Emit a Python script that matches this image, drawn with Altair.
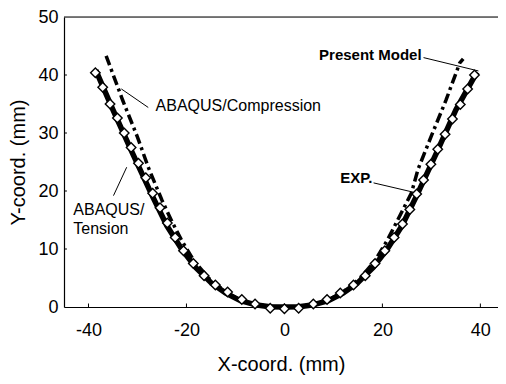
import altair as alt
import pandas as pd

FONT = "Liberation Sans"

# EXP. (diamonds)
exp_x = [-38.6, -37.1, -35.6, -34.1, -32.7, -31.3, -29.8, -28.3, -26.9, -25.4, -23.9,
         -22.3, -20.6, -18.6, -16.4, -14.1, -11.6, -8.7, -6.0, -2.9, 0.0, 2.9, 5.9, 8.7,
         11.4, 14.1, 16.5, 18.5, 20.5, 22.4, 24.1, 25.6, 27.0, 28.4, 29.9, 31.3, 32.8,
         34.3, 35.9, 37.4, 38.8]
exp_y = [40.4, 37.9, 35.0, 32.6, 30.0, 27.5, 24.8, 22.3, 19.6, 17.1, 14.5,
         12.0, 9.7, 7.5, 5.4, 3.8, 2.6, 1.3, 0.5, -0.2, -0.3, -0.2, 0.5, 1.3,
         2.4, 3.8, 5.4, 7.5, 9.7, 12.0, 14.3, 16.8, 19.5, 21.9, 24.6, 27.2, 29.8,
         32.4, 34.9, 37.6, 40.0]

# thick solid line
solid_x = [-38.5, -35.0, -31.0, -27.0, -24.0, -21.0, -18.0, -15.0, -12.0, -9.0, -6.0, -3.0,
           0.0, 3.0, 6.0, 9.0, 12.0, 15.0, 18.0, 21.0, 24.0, 27.0, 31.0, 35.0, 39.3]
solid_y = [40.8, 34.0, 26.5, 19.2, 14.0, 10.0, 6.7, 4.2, 2.4, 1.1, 0.4, 0.05,
           0.0, 0.05, 0.4, 1.1, 2.4, 4.2, 6.7, 10.0, 14.0, 19.2, 26.5, 34.0, 40.5]

# dash-dot line
dash_x = [-36.4, -33.0, -30.0, -27.8, -25.0, -23.0, -21.0, -18.5, -15.5, -12.0, -9.0, -6.0, -3.0,
          0.0, 3.0, 6.0, 9.0, 12.0, 15.5, 18.5, 21.0, 23.0, 25.9, 27.3, 30.0, 33.0, 35.8, 36.5]
dash_y = [43.3, 35.6, 29.3, 24.1, 18.4, 14.8, 11.5, 8.0, 5.0, 2.6, 1.2, 0.45, 0.1,
          0.0, 0.1, 0.45, 1.2, 2.6, 5.0, 8.0, 11.5, 14.8, 19.6, 23.8, 29.5, 35.7, 42.1, 42.8]

# annotations
label_text = ["ABAQUS/Compression", "ABAQUS/", "Tension", "Present Model", "EXP."]
label_x = [-26.3, -43.1, -43.1, 28.0, 11.4]
label_y = [34.7, 16.7, 13.4, 43.5, 22.3]
label_align = ["left", "left", "left", "right", "left"]
label_weight = ["normal", "normal", "normal", "bold", "bold"]

lead_x = [-33.3, -34.9, 28.4, 18.2]
lead_y = [37.6, 19.2, 43.0, 21.4]
lead_x2 = [-27.8, -32.2, 39.6, 26.3]
lead_y2 = [34.4, 24.1, 40.7, 19.8]

x_ticks = [-40, -20, 0, 20, 40]
y_ticks = [10, 20, 30, 40]

X_MIN, X_MAX = -45, 43.6
xs = alt.Scale(domain=[X_MIN, X_MAX], nice=False, zero=False)
ys = alt.Scale(domain=[0, 50], nice=False)

LBL = "datum.value < 0 ? '-' + abs(datum.value) : '' + datum.value"

xaxis = alt.Axis(values=x_ticks, ticks=False, grid=False, domainColor="black", domainWidth=1.2,
                 labelFont=FONT, labelFontSize=18, labelColor="black", labelPadding=14,
                 labelExpr=LBL,
                 title="X-coord. (mm)", titleFont=FONT, titleFontSize=20, titleFontWeight="normal",
                 titleColor="black", titlePadding=15)
yaxis = alt.Axis(values=[0, 10, 20, 30, 40, 50], ticks=False, grid=False, domainColor="black",
                 domainWidth=1.2, labelFont=FONT, labelFontSize=18, labelColor="black",
                 labelPadding=6, title="Y-coord. (mm)", titleFont=FONT, titleFontSize=20,
                 titleFontWeight="normal", titleColor="black", titlePadding=9)

exp_df = pd.DataFrame({"x": exp_x, "y": exp_y})
solid_df = pd.DataFrame({"x": solid_x, "y": solid_y, "o": range(len(solid_x))})
dash_df = pd.DataFrame({"x": dash_x, "y": dash_y, "o": range(len(dash_x))})
lead_df = pd.DataFrame({"x": lead_x, "y": lead_y, "x2": lead_x2, "y2": lead_y2})

base_axes = alt.Chart(exp_df).mark_point(opacity=0).encode(
    x=alt.X("x:Q", scale=xs, axis=xaxis),
    y=alt.Y("y:Q", scale=ys, axis=yaxis),
)

solid = alt.Chart(solid_df).mark_line(color="black", strokeWidth=5.5, strokeJoin="round").encode(
    x=alt.X("x:Q", scale=xs), y=alt.Y("y:Q", scale=ys), order="o:O")

dash = alt.Chart(dash_df).mark_line(color="black", strokeWidth=3.5, strokeDash=[10, 4, 3, 4],
                                    strokeCap="butt").encode(
    x=alt.X("x:Q", scale=xs), y=alt.Y("y:Q", scale=ys), order="o:O")

pts = alt.Chart(exp_df).mark_point(shape="diamond", size=90, filled=True, fill="white",
                                   stroke="black", strokeWidth=1.4, opacity=1).encode(
    x=alt.X("x:Q", scale=xs), y=alt.Y("y:Q", scale=ys))

leads = alt.Chart(lead_df).mark_rule(color="black", strokeWidth=1).encode(
    x=alt.X("x:Q", scale=xs), y=alt.Y("y:Q", scale=ys), x2="x2:Q", y2="y2:Q")

texts = []
for t, x, y, a, w in zip(label_text, label_x, label_y, label_align, label_weight):
    d = pd.DataFrame({"t": [t], "x": [x], "y": [y]})
    texts.append(alt.Chart(d).mark_text(font=FONT, fontSize=15 if w == "bold" else 16,
                                        fontWeight=w, align=a, baseline="middle",
                                        color="black").encode(
        x=alt.X("x:Q", scale=xs), y=alt.Y("y:Q", scale=ys), text="t:N"))

top_df = pd.DataFrame({"x": [X_MIN], "x2": [X_MAX], "y": [50]})
top = alt.Chart(top_df).mark_rule(color="black", strokeWidth=1.2).encode(
    x=alt.X("x:Q", scale=xs), x2="x2:Q", y=alt.Y("y:Q", scale=ys))

xt_df = pd.DataFrame({"x": x_ticks, "y": [0] * len(x_ticks), "y2": [0.6] * len(x_ticks)})
xt = alt.Chart(xt_df).mark_rule(color="black", strokeWidth=1).encode(
    x=alt.X("x:Q", scale=xs), y=alt.Y("y:Q", scale=ys), y2="y2:Q")
yt_df = pd.DataFrame({"y": y_ticks, "x": [X_MIN] * len(y_ticks), "x2": [-44.4] * len(y_ticks)})
yt = alt.Chart(yt_df).mark_rule(color="black", strokeWidth=1).encode(
    x=alt.X("x:Q", scale=xs), x2="x2:Q", y=alt.Y("y:Q", scale=ys))

chart = alt.layer(base_axes, top, xt, yt, solid, dash, pts, leads, *texts).properties(
    width=434, height=290,
    padding={"left": 56, "top": 9, "right": 0, "bottom": 69},
    autosize="none",
).configure_view(stroke=None).configure(background="white")

chart.save("out.html", embed_options={"renderer": "svg", "actions": False})
